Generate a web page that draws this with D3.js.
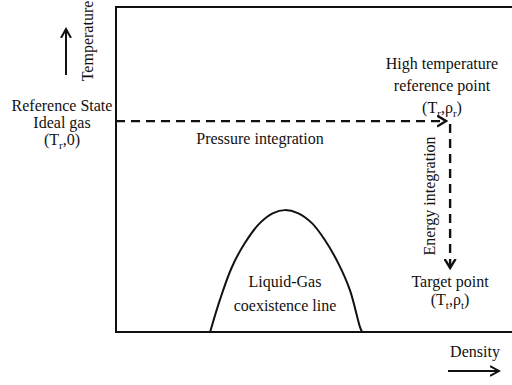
<!DOCTYPE html>
<html>
<head>
<meta charset="utf-8">
<script src="https://cdn.jsdelivr.net/npm/d3@7"></script>
<style>
  html, body { margin: 0; padding: 0; background: #fff; }
  svg { display: block; }
  text { font-family: "Liberation Serif", "Times New Roman", serif; fill: #111; }
</style>
</head>
<body>
<div id="chart"></div>
<script>
// ---- Data (schematic units: density 0..1, temperature 0..1) ----
const domeDensity     = [0.233, 0.257, 0.287, 0.319, 0.356, 0.389, 0.418, 0.450, 0.485, 0.517, 0.550, 0.579, 0.604, 0.609];
const domeTemperature = [0.000, 0.098, 0.200, 0.274, 0.335, 0.366, 0.375, 0.366, 0.335, 0.283, 0.212, 0.129, 0.015, 0.000];

const pressureDensity     = [0.000, 0.817];
const pressureTemperature = [0.649, 0.649];

const energyDensity     = [0.827, 0.827];
const energyTemperature = [0.640, 0.197];

const axisLabels = ["Temperature", "Density"];
const pathLabels = ["Pressure integration", "Energy integration"];
const domeLabels = ["Liquid-Gas", "coexistence line"];

// ---- Layout ----
const W = 512, H = 385;
const svg = d3.select("#chart").append("svg").attr("width", W).attr("height", H);

const x = d3.scaleLinear().domain([0, 1]).range([116, 520]);
const y = d3.scaleLinear().domain([0, 1]).range([332, 7]);

// markers
const defs = svg.append("defs");
function chevron(id, w, h, sw) {
  defs.append("marker")
    .attr("id", id).attr("viewBox", `-${w} -${h} ${w + 2} ${2 * h}`)
    .attr("refX", 0).attr("refY", 0)
    .attr("markerWidth", w + 2).attr("markerHeight", 2 * h)
    .attr("markerUnits", "userSpaceOnUse")
    .attr("orient", "auto")
    .append("path")
    .attr("d", `M${-w},${-h + 1}L0,0L${-w},${h - 1}`)
    .attr("fill", "none").attr("stroke", "#111").attr("stroke-width", sw);
}
chevron("headDash", 9, 6.5, 2.4);
chevron("headAxis", 9, 6, 2);

// frame (right edge off-canvas)
svg.append("path")
  .attr("d", `M${x(1)},${y(1)}H${x(0)}V${y(0)}H${x(1)}`)
  .attr("fill", "none").attr("stroke", "#111").attr("stroke-width", 2);

// coexistence dome
const line = d3.line().x(d => x(d[0])).y(d => y(d[1])).curve(d3.curveCatmullRom.alpha(0.5));
svg.append("path")
  .datum(d3.zip(domeDensity, domeTemperature))
  .attr("d", line)
  .attr("fill", "none").attr("stroke", "#111").attr("stroke-width", 2);

// dashed integration paths
const straight = d3.line().x(d => x(d[0])).y(d => y(d[1]));
svg.append("path")
  .datum(d3.zip(pressureDensity, pressureTemperature))
  .attr("d", straight)
  .attr("fill", "none").attr("stroke", "#111").attr("stroke-width", 2.4)
  .attr("stroke-dasharray", "9,6")
  .attr("marker-end", "url(#headDash)");
svg.append("path")
  .datum(d3.zip(energyDensity, energyTemperature))
  .attr("d", straight)
  .attr("fill", "none").attr("stroke", "#111").attr("stroke-width", 2.4)
  .attr("stroke-dasharray", "9,6")
  .attr("marker-end", "url(#headDash)");

// axis arrows
svg.append("line").attr("x1", 66).attr("y1", 75).attr("x2", 66).attr("y2", 29)
  .attr("stroke", "#111").attr("stroke-width", 2).attr("marker-end", "url(#headAxis)");
svg.append("line").attr("x1", 448).attr("y1", 371).attr("x2", 499).attr("y2", 371)
  .attr("stroke", "#111").attr("stroke-width", 2).attr("marker-end", "url(#headAxis)");

const fs = 16;
function txt(xp, yp, parts, rot) {
  const t = svg.append("text").attr("font-size", fs).attr("text-anchor", "middle");
  if (rot) t.attr("transform", `translate(${xp},${yp}) rotate(-90)`);
  else t.attr("x", xp).attr("y", yp);
  parts.forEach(p => {
    if (typeof p === "string") t.append("tspan").text(p);
    else t.append("tspan").attr("font-size", 11).attr("baseline-shift", "-4").text(p.sub);
  });
  return t;
}

txt(93, 41, [axisLabels[0]], true);
txt(475, 357, [axisLabels[1]]);

txt(62, 111, ["Reference State"]);
txt(62, 128, ["Ideal gas"]);
txt(62, 145, ["(T", {sub: "r"}, ",0)"]);

txt(442, 69, ["High temperature"]);
txt(442, 91, ["reference point"]);
txt(442, 113, ["(T", {sub: "r"}, ",ρ", {sub: "r"}, ")"]);

txt(260, 144, [pathLabels[0]]);
txt(435, 196, [pathLabels[1]], true);

txt(450, 287, ["Target point"]);
txt(450, 305, ["(T", {sub: "t"}, ",ρ", {sub: "t"}, ")"]);

txt(285, 287, [domeLabels[0]]);
txt(285, 311, [domeLabels[1]]);
</script>
</body>
</html>
